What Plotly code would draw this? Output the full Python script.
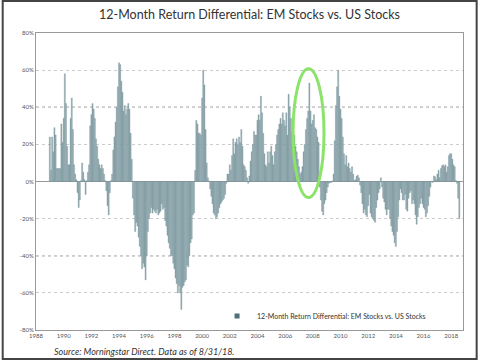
import plotly.graph_objects as go

# Monthly 12-month return differential (EM minus US), in %, Jan 1989 .. Aug 2018
start_year = 1989
v1989 = [24, 6, 24, 16, 29, 25, 7, 7, 7, 7, 31, 21]
v1990 = [34, 58, 42, 19, 9, 9, 34, 45, 28, 9, 4, 1]
v1991 = [-6, -14, -10, 0.5, 10, 5, 1, -7, 0.5, 5, 9, 30]
v1992 = [36, 42, 39, 34, 23, 19, 12, 9, 7, 9, 7, 4]
v1993 = [0.5, -5, -13, -18, -6, 0.5, 4, 17, 24, 32, 40, 51]
v1994 = [64, 63, 54, 48, 38, 41, 36, 39, 42, 39, 26, 12]
v1995 = [-9, -18, -27, -22, -24, -30, -35, -40, -47, -44, -46, -53]
v1996 = [-40, -27, -20, -17, -14, -17, -15, -16, -17, -15, -18, -17]
v1997 = [-16, -12, -15, -14, -21, -24, -29, -33, -36, -40, -40, -44]
v1998 = [-47, -52, -55, -60, -56, -60, -69, -57, -56, -54, -53, -45]
v1999 = [-46, -40, -33, -31, -18, -17, 6, 33, 31, 26, 26, 25]
v2000 = [45, 60, 52, 28, 10, 2, 0.3, -4, -8, -12, -17, -18]
v2001 = [-20, -19, -17, -14, -12, -11, -10, -9, -7, -1, 4, 4]
v2002 = [9, 6, 14, 23, 15, 21, 23, 20, 24, 21, 28, 19]
v2003 = [9, 8, 6, 2, -1, 3, 11, 16, 20, 27, 25, 25]
v2004 = [33, 36, 33, 46, 37, 26, 15, 9, 8, 16, 10, 16]
v2005 = [19, 14, 9, 16, 20, 25, 28, 31, 34, 31, 37, 33]
v2006 = [30, 37, 25, 47, 40, 34, 27, 21, 25, 19, 16, 12]
v2007 = [8, 4, 5, 8, 16, 20, 28, 34, 38, 53, 38, 31]
v2008 = [33, 36, 29, 28, 24, 21, -3, -10, -16, -18, -12, -10]
v2009 = [-6, -3, -1, -0.5, -0.5, 0.3, 4, 22, 41, 51, 60, 46]
v2010 = [39, 34, 24, 15, 9, 14, 8, 10, 7, 5, 8, 4]
v2011 = [0.5, 1, 3, 3.4, 2, -2, -6, -12, -17, -15, -18, -19]
v2012 = [-13, -7, -17, -19, -20, -21, -22, -14, -10, -6, -4, 2]
v2013 = [-3, -9, -11, -15, -18, -15, -15, -20, -24, -27, -29, -33]
v2014 = [-35, -27, -19, -10, -4, -6, -10, -10, -7, -15, -16, -9]
v2015 = [-6, -5, -12, -10, -12, -18, -23, -19, -14, -12, -9, -12]
v2016 = [-14, -15, -19, -17, -13, -8, -3, 0.3, -0.5, 3, 2.5, 1]
v2017 = [4, 6, 2, 7, 8.5, 9, 8, 9, 5, 8, 14, 15]
v2018 = [15, 12, 9, 8, 0.5, -1, -9, -20]

yearly = [v1989, v1990, v1991, v1992, v1993, v1994, v1995, v1996, v1997, v1998,
          v1999, v2000, v2001, v2002, v2003, v2004, v2005, v2006, v2007, v2008,
          v2009, v2010, v2011, v2012, v2013, v2014, v2015, v2016, v2017, v2018]

x_tick_years = list(range(1988, 2019, 2))
y_ticks = [80, 60, 40, 20, 0, -20, -40, -60, -80]
strong_grid = [40, -40]
series_name = "12-Month Return Differential: EM Stocks vs. US Stocks"
title_text = "12-Month Return Differential: EM Stocks vs. US Stocks"
source_text = "Source: Morningstar Direct. Data as of 8/31/18."
highlight_x = [2006.57, 2008.81]
highlight_y = [-8.6, 60.8]

xs, ys = [], []
for k, vals in enumerate(yearly):
    for m, v in enumerate(vals):
        xs.append(start_year + k + m / 12)
        ys.append(v)

fig = go.Figure()
fig.add_trace(go.Bar(
    x=xs, y=ys, name=series_name, width=1 / 12,
    marker=dict(color="#93acb2", line=dict(color="#6d8a91", width=0.3)),
    showlegend=False,
))
# legend entry with a small square swatch
fig.add_trace(go.Scatter(
    x=[None], y=[None], mode="markers", name=series_name,
    marker=dict(symbol="square", size=5, color="#4f6e76"),
    showlegend=True,
))

shapes = []
for g in strong_grid:
    shapes.append(dict(type="line", xref="paper", yref="y", x0=0, x1=1, y0=g, y1=g,
                       line=dict(color="#555555", width=1, dash="dot"), layer="below"))
shapes.append(dict(type="circle", xref="x", yref="y",
                   x0=highlight_x[0], x1=highlight_x[1], y0=highlight_y[0], y1=highlight_y[1],
                   line=dict(color="#8be36a", width=3)))
# outer frame
shapes.append(dict(type="rect", xref="paper", yref="paper",
                   x0=-0.078, x1=1.032, y0=-0.098, y1=1.108,
                   line=dict(color="#444444", width=2)))

fig.update_layout(
    width=480, height=362,
    margin=dict(l=36, r=17, t=33, b=32),
    paper_bgcolor="white", plot_bgcolor="white",
    font=dict(family="Lato", color="#333333"),
    title=dict(text=title_text, x=0.5, xref="paper", xanchor="center",
               y=1 - 15 / 362, yanchor="middle", yref="container",
               font=dict(size=12.5, color="#333333", family="Lato")),
    bargap=0.15,
    showlegend=True,
    legend=dict(x=0.424, y=0.047, xanchor="left", yanchor="middle",
                bgcolor="rgba(0,0,0,0)", font=dict(size=7, color="#333333"),
                itemwidth=30),
    shapes=shapes,
    annotations=[dict(text="<i>" + source_text + "</i>", xref="paper", yref="paper",
                      x=(52 - 36) / 427, y=(330 - 352) / 297, xanchor="left", yanchor="middle",
                      showarrow=False, font=dict(size=9, color="#333333", family="Lato"))],
)
fig.update_xaxes(range=[1988.0, 2018.85], tickvals=x_tick_years,
                 ticktext=[str(t) for t in x_tick_years],
                 showgrid=False, zeroline=False, showline=True, mirror=True,
                 linecolor="#999999", linewidth=1, ticks="", ticklen=0,
                 tickfont=dict(size=6, color="#555555"))
fig.update_yaxes(range=[-80, 80], tickvals=y_ticks,
                 ticktext=[f"{t}%" for t in y_ticks],
                 showgrid=True, gridcolor="#cccccc", griddash="dot", gridwidth=1,
                 zeroline=True, zerolinecolor="#999999", zerolinewidth=1,
                 showline=True, mirror=True, linecolor="#999999", linewidth=1,
                 ticks="", tickfont=dict(size=6, color="#555555"))

fig.write_html("out.html", config={"displayModeBar": False},
               post_script="document.body.style.margin='0px';")
